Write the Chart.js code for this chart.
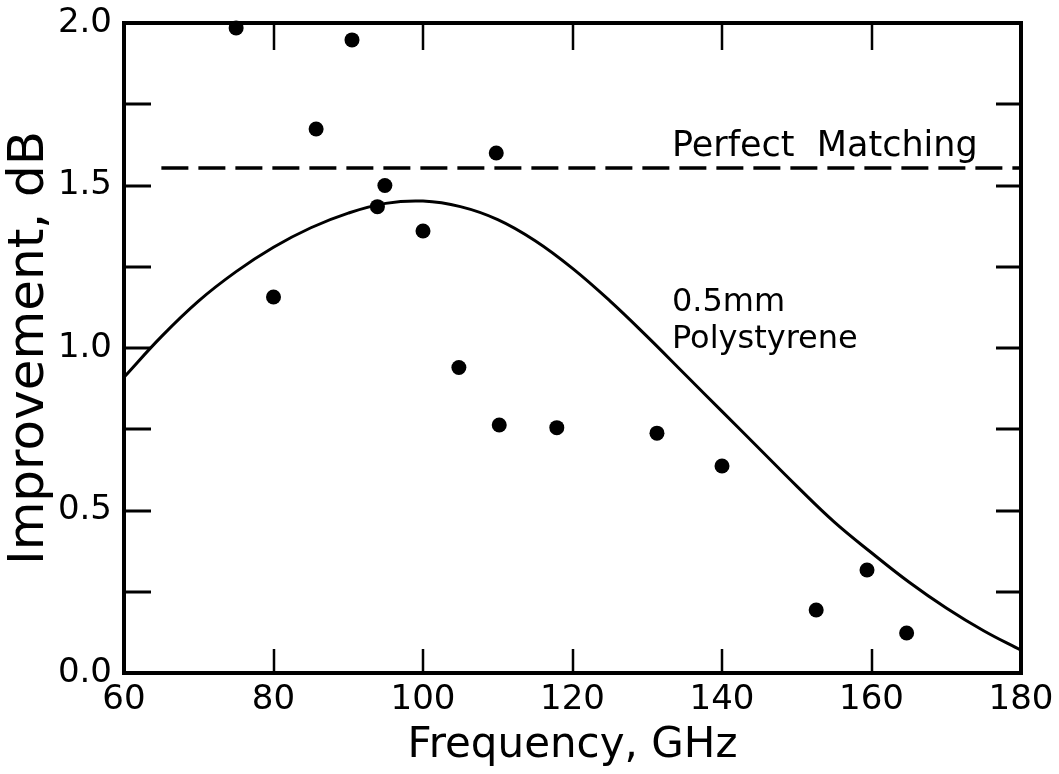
<!DOCTYPE html>
<html>
<head>
<meta charset="utf-8">
<script src="https://cdn.jsdelivr.net/npm/chart.js@4.4.0/dist/chart.umd.min.js"></script>
<style>
  html, body { margin: 0; padding: 0; background: #fff; }
  #wrap { width: 1059px; height: 774px; }
</style>
</head>
<body>
<div id="wrap"><canvas id="chart"></canvas></div>
<script>
// measured improvement (dots)
const measuredFreq = [75, 80, 85.7, 90.5, 93.9, 94.9, 100, 104.8, 109.8, 110.2, 117.9, 131.3, 140, 152.6, 159.4, 164.7];
const measuredGain = [1.985, 1.157, 1.674, 1.948, 1.435, 1.50, 1.36, 0.94, 1.60, 0.763, 0.755, 0.738, 0.637, 0.194, 0.317, 0.123];

// calculated curve, 0.5 mm polystyrene
const curveFreq = [60, 65, 70, 75, 80, 85, 90, 95, 100, 105, 110, 115, 120, 125, 130, 135, 140, 145, 150, 155, 160, 165, 170, 175, 180];
const curveGain = [0.91, 1.035, 1.145, 1.235, 1.31, 1.37, 1.415, 1.445, 1.452, 1.435, 1.395, 1.33, 1.245, 1.145, 1.035, 0.92, 0.805, 0.69, 0.575, 0.465, 0.37, 0.28, 0.2, 0.13, 0.07];

// perfect matching level
const matchFreq = [65, 180];
const matchGain = [1.554, 1.554];

const xRange = [60, 180];
const yRange = [0, 2];

const FONT = "'DejaVu Sans', sans-serif";

function toPoints(xs, ys) {
    return xs.map((x, i) => ({ x: x, y: ys[i] }));
}

// frame, inward ticks and the two text notes
const framePlugin = {
    id: 'frame',
    afterDraw(chart) {
        const ctx = chart.ctx;
        const a = chart.chartArea;
        const xs = chart.scales.x;
        const ys = chart.scales.y;
        ctx.save();
        ctx.strokeStyle = '#000';
        ctx.lineCap = 'butt';

        ctx.lineWidth = 2.5;
        xs.ticks.forEach(t => {
            if (t.value <= xRange[0] || t.value >= xRange[1]) return;
            const px = Math.round(xs.getPixelForValue(t.value));
            ctx.beginPath();
            ctx.moveTo(px, a.bottom);
            ctx.lineTo(px, a.bottom - 24);
            ctx.moveTo(px, a.top);
            ctx.lineTo(px, a.top + 27);
            ctx.stroke();
        });
        ctx.lineWidth = 3;
        ys.ticks.forEach(t => {
            if (t.value <= yRange[0] || t.value >= yRange[1]) return;
            const py = Math.round(ys.getPixelForValue(t.value));
            ctx.beginPath();
            ctx.moveTo(a.left, py);
            ctx.lineTo(a.left + 27, py);
            ctx.moveTo(a.right, py);
            ctx.lineTo(a.right - 25, py);
            ctx.stroke();
        });

        ctx.lineWidth = 4;
        ctx.lineJoin = 'miter';
        ctx.strokeRect(a.left, a.top, a.right - a.left, a.bottom - a.top);

        ctx.fillStyle = '#000';
        ctx.textAlign = 'left';
        ctx.textBaseline = 'alphabetic';
        ctx.font = '35px ' + FONT;
        ctx.fillText('Perfect  Matching', xs.getPixelForValue(133.3), ys.getPixelForValue(1.59));
        ctx.font = '32px ' + FONT;
        ctx.fillText('0.5mm', xs.getPixelForValue(133.3), ys.getPixelForValue(1.115));
        ctx.fillText('Polystyrene', xs.getPixelForValue(133.3), ys.getPixelForValue(1.0));
        ctx.restore();
    }
};

new Chart(document.getElementById('chart'), {
    type: 'scatter',
    data: {
        datasets: [
            {
                label: 'Measured',
                data: toPoints(measuredFreq, measuredGain),
                showLine: false,
                pointRadius: 7.5,
                pointBackgroundColor: '#000',
                pointBorderWidth: 0,
                clip: false
            },
            {
                label: '0.5 mm Polystyrene',
                data: toPoints(curveFreq, curveGain),
                showLine: true,
                borderColor: '#000',
                borderWidth: 3,
                pointRadius: 0,
                tension: 0.4
            },
            {
                label: 'Perfect Matching',
                data: toPoints(matchFreq, matchGain),
                showLine: true,
                borderColor: '#000',
                borderWidth: 3.5,
                borderDash: [27, 10],
                pointRadius: 0
            }
        ]
    },
    options: {
        responsive: true,
        maintainAspectRatio: false,
        animation: false,
        layout: { padding: { top: 23, right: 38, left: 0, bottom: 0 } },
        plugins: {
            legend: { display: false },
            tooltip: { enabled: false }
        },
        scales: {
            x: {
                type: 'linear',
                min: xRange[0],
                max: xRange[1],
                grid: { display: false, drawTicks: false },
                border: { display: false },
                ticks: {
                    stepSize: 20,
                    color: '#000',
                    padding: 7,
                    maxRotation: 0,
                    font: { family: FONT, size: 34 }
                },
                title: {
                    display: true,
                    text: 'Frequency, GHz',
                    color: '#000',
                    padding: { top: 0, bottom: 3 },
                    font: { family: FONT, size: 42 }
                },
                afterFit(scale) {
                    scale.height = 101;
                    scale.paddingLeft = 0;
                    scale.paddingRight = 0;
                }
            },
            y: {
                type: 'linear',
                min: yRange[0],
                max: yRange[1],
                grid: { display: false, drawTicks: false },
                border: { display: false },
                ticks: {
                    stepSize: 0.25,
                    color: '#000',
                    padding: 12,
                    font: { family: FONT, size: 34 },
                    callback: v => (Math.abs(v * 2 - Math.round(v * 2)) < 1e-6 ? v.toFixed(1) : '')
                },
                title: {
                    display: true,
                    text: 'Improvement, dB',
                    color: '#000',
                    padding: { top: 0, bottom: 0 },
                    font: { family: FONT, size: 50 }
                },
                afterFit(scale) {
                    scale.width = 124;
                    scale.paddingTop = 0;
                    scale.paddingBottom = 0;
                }
            }
        }
    },
    plugins: [framePlugin]
});
</script>
</body>
</html>
